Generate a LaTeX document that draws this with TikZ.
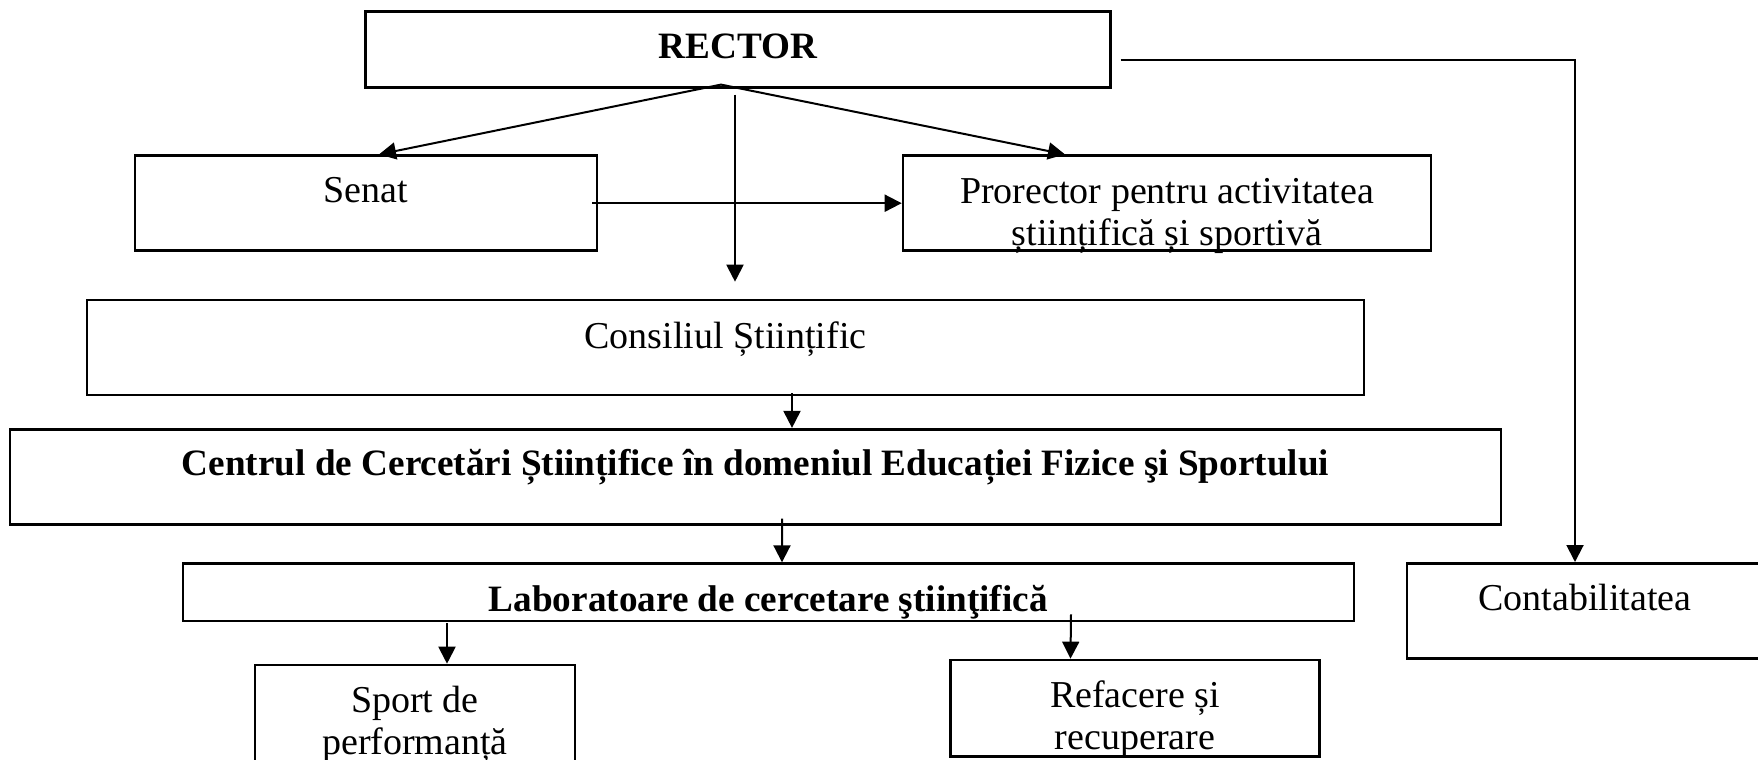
\documentclass[tikz,border=0pt]{standalone}
\usepackage{fontspec}
\setmainfont{Liberation Serif}
\usetikzlibrary{arrows.meta,calc}

\begin{document}
\begin{tikzpicture}[x=0.5pt,y=-0.5pt]
\tikzset{box/.style = {draw,line width=1.3pt,inner sep=0pt,align=center,font=\fontsize{19}{21}\selectfont}}
\tikzset{boldbox/.style = {box,font=\fontsize{18.6}{21}\selectfont\bfseries}}
\tikzset{edge/.style = {-{Triangle[length=8.5pt,width=8.5pt]},line width=1pt}}
\useasboundingbox (0,0) rectangle (1758,760);
\clip (0,0) rectangle (1758,760);
% boxes
\node[boldbox,minimum width=372.5pt,minimum height=37.8pt,text height=8.8pt,text depth=0pt] (rector) at (738,49.5) {RECTOR};
\node[box,minimum width=231pt,minimum height=47.5pt,text height=6pt,text depth=6.9pt] (senat) at (366,203.2) {Senat};
\node[box,minimum width=264pt,minimum height=47.5pt,text height=41.8pt,text depth=0pt] (prorector) at (1167,203.2) {Prorector pentru activitatea\\științifică și sportivă};
\node[box,minimum width=638.5pt,minimum height=47.5pt,text height=6pt,text depth=5.5pt] (consiliul) at (725.5,347.5) {Consiliul Științific};
\node[boldbox,minimum width=745.5pt,minimum height=47.5pt,text height=6pt,text depth=7.7pt] (centru) at (755.5,476.7) {Centrul de Cercetări Științifice în domeniul Educației Fizice şi Sportului};
\node[boldbox,minimum width=585.5pt,minimum height=28.7pt,text height=18.7pt,text depth=0pt] (lab) at (768.3,592.3) {Laboratoare de cercetare ştiinţifică};
\node[box,minimum width=178pt,minimum height=47.5pt,text height=6pt,text depth=6pt] (contab) at (1585,610.8) {Contabilitatea};
\node[box,minimum width=160pt,minimum height=50pt,text height=39.5pt,text depth=0pt] (sport) at (415,715) {Sport de\\performanță};
\node[box,minimum width=184.3pt,minimum height=48.35pt,text height=41.2pt,text depth=0pt] (refacere) at (1135,708.3) {Refacere și\\recuperare};
% edges
\coordinate (fork) at ($(rector.south)+(-17,-4)$);
\draw[edge] (fork) -- ($(senat.north)+(13,0)$);
\draw[edge] (fork) -- ($(prorector.north)+(-102,0)$);
\draw[edge] ($(rector.south)+(-3,6)$) -- ($(consiliul.north)+(9.5,-17)$);
\draw[edge] ([xshift=-3pt]senat.east) -- (prorector.west);
\draw[edge] ($(consiliul.south)+(66.5,-3)$) -- ($(centru.north)+(36.5,0)$);
\draw[edge] ($(centru.south)+(26.5,-7)$) -- ($(lab.north)+(13.7,0)$);
\draw[edge] ($(lab.south)+(-321.3,1)$) -- ($(sport.north)+(32,0)$);
\draw[edge] ($(lab.south)+(302.7,-8)$) -- ($(refacere.north)+(-64.5,0)$);
\draw[edge] ($(rector.east)+(8.7,10.5)$) -| ($(contab.north)+(-10,0)$);
\end{tikzpicture}
\end{document}
